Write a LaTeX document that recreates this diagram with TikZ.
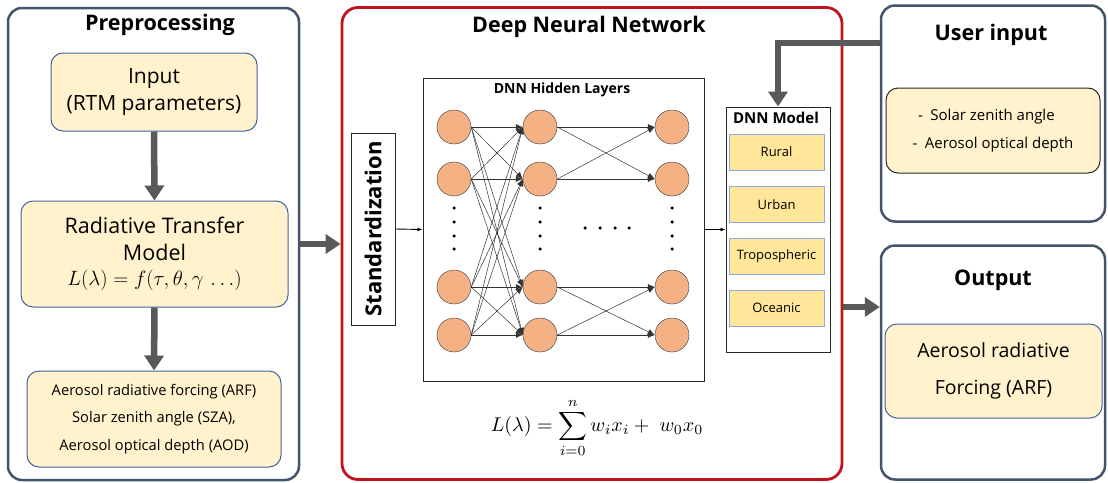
\documentclass[tikz,border=0pt]{standalone}
\usepackage{amsmath}
\usepackage[no-math]{fontspec}
\setmainfont{Open Sans}
\usetikzlibrary{arrows.meta}
\definecolor{frameC}{RGB}{68,84,106}
\definecolor{redC}{RGB}{192,20,30}
\definecolor{lyel}{RGB}{255,242,204}
\definecolor{gold}{RGB}{255,230,153}
\definecolor{bluC}{RGB}{68,100,160}
\definecolor{lblu}{RGB}{143,170,220}
\definecolor{arrC}{RGB}{89,89,89}
\definecolor{neuron}{RGB}{244,177,131}
\tikzset{
  frame/.style={draw=frameC, line width=2.5pt, rounded corners=14pt, fill=white, inner sep=0pt},
  redframe/.style={draw=redC, line width=2.8pt, rounded corners=16pt, fill=white, inner sep=0pt},
  ybox/.style={draw=bluC, line width=1pt, rounded corners=12pt, fill=lyel, align=center, inner sep=0pt},
  plainbox/.style={draw=black!85, line width=1pt, fill=white, inner sep=0pt},
  subbox/.style={draw=lblu, line width=1pt, fill=gold, inner sep=0pt, minimum width=95pt, minimum height=36pt, font=\fontsize{13}{15}\selectfont},
  title/.style={font=\fontsize{21.5}{24}\bfseries\selectfont},
  garrow/.style={draw=arrC, line width=6.5pt, -{Triangle[length=15pt,width=19pt]}},
  tarrow/.style={draw=black, line width=0.9pt, -{Latex[length=5pt,width=4pt]}},
  narrow/.style={draw=black!80, line width=0.5pt, -{Latex[length=7pt,width=6pt]}},
  neur/.style={circle, draw=black!70, line width=0.5pt, fill=neuron, minimum size=34pt, inner sep=0pt},
  dotc/.style={circle, fill=black, minimum size=3.5pt, inner sep=0pt},
}
\begin{document}
\begin{tikzpicture}[x=1pt,y=-1pt]
\useasboundingbox (0,0) rectangle (1108,482);
% frames
\node[frame, minimum width=291pt, minimum height=472pt] (pre) at (153.5,244) {};
\node[redframe, minimum width=500pt, minimum height=472pt] (dnn) at (592,243.5) {};
\node[frame, minimum width=224pt, minimum height=216pt] (ui) at (993,113.5) {};
\node[frame, minimum width=224pt, minimum height=234pt] (out) at (993,362.5) {};
% titles
\node[title] (tpre) at (160,25) {Preprocessing};
\node[title] (tdnn) at (589,27) {Deep Neural Network};
\node[title] (tui) at (991,35) {User input};
\node[title] (tout) at (993,280) {Output};
% preprocessing boxes
\node[ybox, minimum width=206pt, minimum height=78pt, font=\fontsize{21}{27}\selectfont] (inp) at (154,92) {Input\\(RTM parameters)};
\node[ybox, minimum width=267pt, minimum height=106pt, font=\fontsize{21.5}{27}\selectfont] (rtm) at (154.5,254) {Radiative Transfer\\Model\\[-2pt]$L(\lambda)=f(\tau,\theta,\gamma\,\ldots)$};
\node[ybox, minimum width=254pt, minimum height=96pt, font=\fontsize{14.7}{27.5}\selectfont] (par) at (154,419) {Aerosol radiative forcing (ARF)\\Solar zenith angle (SZA),\\Aerosol optical depth (AOD)};
\draw[garrow] (inp.south) -- (rtm.north);
\draw[garrow] (rtm.south) -- (par.north);
\draw[garrow] (pre.east) -- (pre.east -| dnn.west);
% DNN
\node[plainbox, minimum width=44pt, minimum height=192pt] (std) at (373,229) {};
\node[rotate=90, font=\fontsize{22}{24}\bfseries\selectfont] (stdt) at (373,229) {Standardization};
\node[plainbox, minimum width=281pt, minimum height=303pt] (hid) at (563.5,229.5) {};
\node[font=\fontsize{14}{16}\bfseries\selectfont] (hidt) at (562,90) {DNN Hidden Layers};
\node[plainbox, minimum width=104pt, minimum height=245pt] (mdl) at (778,229.5) {};
\node[font=\fontsize{15}{17}\bfseries\selectfont] (mdlt) at (776,118) {DNN Model};
\node[subbox] (s1) at (776.5,152) {Rural};
\node[subbox] (s2) at (776.5,204.5) {Urban};
\node[subbox] (s3) at (776.5,256) {Tropospheric};
\node[subbox] (s4) at (776.5,308) {Oceanic};
\draw[tarrow] (std.east) -- (hid.west);
\draw[tarrow] (hid.east) -- (mdl.west);
% neurons
\foreach \c/\x in {1/454,2/540,3/672}{
  \foreach \r/\y in {1/127,2/179,3/287,4/335}{
    \node[neur] (n\c\r) at (\x,\y) {};
  }
  \foreach \k/\y in {1/208,2/222,3/236,4/249}{
    \node[dotc] (d\c\k) at (\x,\y) {};
  }
}
\foreach \k/\x in {1/585,2/600,3/615,4/629}{
  \node[dotc] (h\k) at (\x,228) {};
}
\foreach \a in {1,2,3,4}{
  \foreach \b in {1,2,3,4}{
    \draw[narrow] (n1\a.east) -- (n2\b.west);
  }
}
\foreach \a/\b in {1/1,1/2,2/1,2/2,3/3,3/4,4/3,4/4}{
  \draw[narrow] (n2\a.east) -- (n3\b.west);
}
% formula
\node (fml) at (597,428) {\scalebox{2}{$\displaystyle L(\lambda)=\sum_{i=0}^{n} w_i x_i +\; w_0 x_0$}};
% user input
\node[ybox, draw=black!85, minimum width=214pt, minimum height=85pt, font=\fontsize{15}{28}\selectfont] (uin) at (993,130.5) {\,-\enspace Solar zenith angle\phantom{xx}\\-\enspace Aerosol optical depth};
\coordinate (u1) at (880,43);
\draw[garrow, rounded corners=0pt] (ui.west |- u1) -| (mdl.north);
% output
\node[ybox, minimum width=217pt, minimum height=94pt, font=\fontsize{19.5}{37}\selectfont] (oin) at (993.5,371) {Aerosol radiative\\Forcing (ARF)};
\coordinate (o1) at (842,307);
\draw[garrow] (dnn.east |- o1) -- (out.west |- o1);
\end{tikzpicture}
\end{document}
